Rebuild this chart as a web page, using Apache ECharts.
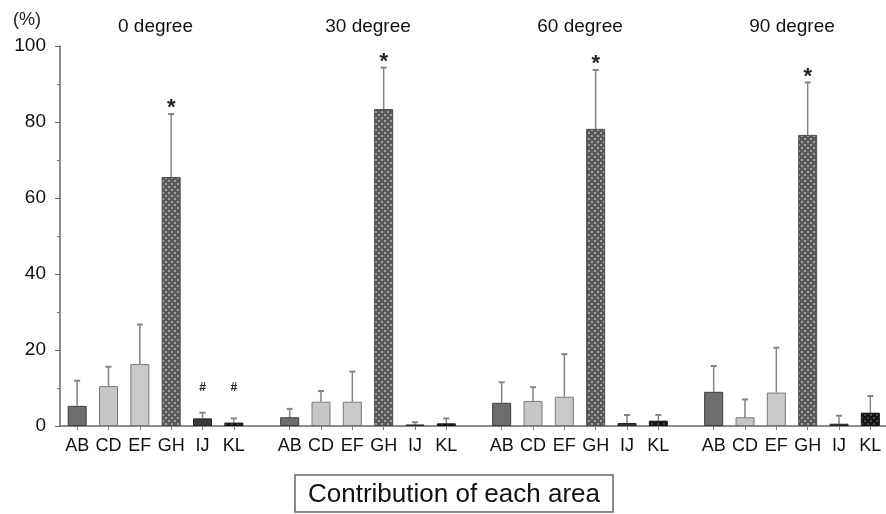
<!DOCTYPE html>
<html>
<head>
    <meta charset="utf-8">
    <title>Contribution of each area</title>
    <script src="https://cdn.jsdelivr.net/npm/echarts@6.0.0/dist/echarts.min.js"></script>
</head>
<body style="background-color: #fff; margin: 0px;">
    <div id="main" style="width: 886px; height: 514px;"></div>
    <script type="text/javascript">
        // data (mean and upper SD, in %)
        var categories = ['AB', 'CD', 'EF', 'GH', 'IJ', 'KL'];
        var groupTitles = ['0 degree', '30 degree', '60 degree', '90 degree'];
        var yTicks = [0, 20, 40, 60, 80, 100];

        var means0 = [5.3, 10.5, 16.3, 65.5, 2.0, 0.9];
        var sd0 = [6.6, 5.1, 10.4, 16.6, 1.5, 1.1];
        var marks0 = ['', '', '', '*', '#', '#'];

        var means30 = [2.3, 6.4, 6.4, 83.4, 0.4, 0.7];
        var sd30 = [2.2, 2.8, 7.9, 10.9, 0.6, 1.3];
        var marks30 = ['', '', '', '*', '', ''];

        var means60 = [6.1, 6.6, 7.7, 78.2, 0.8, 1.4];
        var sd60 = [5.4, 3.6, 11.2, 15.5, 2.1, 1.5];
        var marks60 = ['', '', '', '*', '', ''];

        var means90 = [9.0, 2.3, 8.8, 76.6, 0.6, 3.5];
        var sd90 = [6.8, 4.7, 11.8, 13.8, 2.1, 4.4];
        var marks90 = ['', '', '', '*', '', ''];

        var groupMeans = [means0, means30, means60, means90];
        var groupSd = [sd0, sd30, sd60, sd90];
        var groupMarks = [marks0, marks30, marks60, marks90];

        var FONT = '"Liberation Sans", Arial, sans-serif';

        // small dotted pattern used for the GH / KL fills
        function makePattern(bg, dot) {
            var c = document.createElement('canvas');
            c.width = 6;
            c.height = 6;
            var ctx = c.getContext('2d');
            ctx.fillStyle = bg;
            ctx.fillRect(0, 0, 6, 6);
            ctx.fillStyle = dot;
            ctx.fillRect(0, 0, 2, 2);
            ctx.fillRect(3, 3, 2, 2);
            return { image: c, repeat: 'repeat' };
        }

        var barStyles = [
            { color: '#6e6e6e', borderColor: '#3c3c3c', borderWidth: 1 },
            { color: '#c6c6c6', borderColor: '#7a7a7a', borderWidth: 1 },
            { color: '#c9c9c9', borderColor: '#7a7a7a', borderWidth: 1 },
            { color: makePattern('#5a5a5a', '#a0a0a0'), borderColor: '#4a4a4a', borderWidth: 1 },
            { color: '#3a3a3a', borderColor: '#222', borderWidth: 1 },
            { color: makePattern('#151515', '#4a4a4a'), borderColor: '#111', borderWidth: 1 }
        ];

        var gridTop = 46, gridBottom = 88;
        var groupLeft = [61.5, 274, 486, 698];
        var groupWidth = 188;

        var grids = [{ left: 60, right: 0, top: gridTop, bottom: gridBottom }];
        var xAxes = [{
            gridIndex: 0, type: 'category', data: [''],
            axisLine: { show: true, lineStyle: { color: '#666', width: 1.5 } },
            axisTick: { show: false }, axisLabel: { show: false }
        }];
        var yAxes = [{
            gridIndex: 0, type: 'value', min: 0, max: 100, interval: 20,
            splitLine: { show: false },
            axisLine: { show: true, lineStyle: { color: '#666', width: 1.5 } },
            axisTick: { show: true, length: 5, lineStyle: { color: '#666' } },
            minorTick: { show: true, splitNumber: 2, length: 3, lineStyle: { color: '#777' } },
            axisLabel: {
                margin: 14, fontSize: 19, color: '#111', fontFamily: FONT,
                formatter: function (v) { return yTicks.indexOf(v) >= 0 ? String(v) : ''; }
            }
        }];
        var series = [];
        var graphics = [];

        groupMeans.forEach(function (means, g) {
            grids.push({ left: groupLeft[g], width: groupWidth, top: gridTop, bottom: gridBottom });
            xAxes.push({
                gridIndex: g + 1, type: 'category', data: categories,
                axisLine: { show: false },
                axisTick: { show: true, alignWithLabel: true, interval: 0, length: 4, lineStyle: { color: '#777' } },
                axisLabel: { interval: 0, hideOverlap: false, margin: 11, fontSize: 18, color: '#111', fontFamily: FONT }
            });
            yAxes.push({ gridIndex: g + 1, type: 'value', min: 0, max: 100, show: false });

            series.push({
                type: 'bar', xAxisIndex: g + 1, yAxisIndex: g + 1, barWidth: 19,
                data: means.map(function (v, i) { return { value: v, itemStyle: barStyles[i] }; }),
                z: 3
            });

            var sd = groupSd[g];
            var marks = groupMarks[g];
            series.push({
                type: 'custom', xAxisIndex: g + 1, yAxisIndex: g + 1,
                encode: { x: 0, y: 1 },
                data: means.map(function (v, i) { return [i, v, v + sd[i]]; }),
                z: 2,
                renderItem: function (params, api) {
                    var x = api.value(0);
                    var p0 = api.coord([x, api.value(1)]);
                    var p1 = api.coord([x, api.value(2)]);
                    var children = [
                        { type: 'line', shape: { x1: p0[0], y1: p0[1], x2: p1[0], y2: p1[1] },
                          style: { stroke: '#858585', lineWidth: 1.5 } },
                        { type: 'line', shape: { x1: p1[0] - 3, y1: p1[1], x2: p1[0] + 3, y2: p1[1] },
                          style: { stroke: '#858585', lineWidth: 2 } }
                    ];
                    var m = marks[params.dataIndex];
                    if (m) {
                        var pm = api.coord([x, Math.max(api.value(2), 7.5)]);
                        var star = m === '*';
                        children.push({
                            type: 'text',
                            style: {
                                text: m, x: pm[0], y: pm[1] - (star ? 6 : 10),
                                align: 'center', verticalAlign: 'middle',
                                fontSize: star ? 22 : 12, fontWeight: 'bold',
                                fontFamily: FONT, fill: '#222'
                            }
                        });
                    }
                    return { type: 'group', children: children };
                }
            });

            graphics.push({
                type: 'text', x: groupLeft[g] + groupWidth / 2, y: 27,
                style: { text: groupTitles[g], align: 'center', verticalAlign: 'middle',
                         fontSize: 19, fontFamily: FONT, fill: '#111' }
            });
        });

        graphics.push({
            type: 'text', x: 27, y: 20,
            style: { text: '(%)', align: 'center', verticalAlign: 'middle',
                     fontSize: 18, fontFamily: FONT, fill: '#222' }
        });
        graphics.push({
            type: 'rect', shape: { x: 295, y: 475, width: 318, height: 37 },
            style: { fill: '#fff', stroke: '#666', lineWidth: 1.5 }
        });
        graphics.push({
            type: 'text', x: 454, y: 495,
            style: { text: 'Contribution of each area', align: 'center', verticalAlign: 'middle',
                     fontSize: 26, fontFamily: FONT, fill: '#111' }
        });

        var myChart = echarts.init(document.getElementById('main'));
        var option = {
            animation: false,
            backgroundColor: '#fff',
            grid: grids,
            xAxis: xAxes,
            yAxis: yAxes,
            series: series,
            graphic: graphics
        };
        myChart.setOption(option);
    </script>
</body>
</html>
